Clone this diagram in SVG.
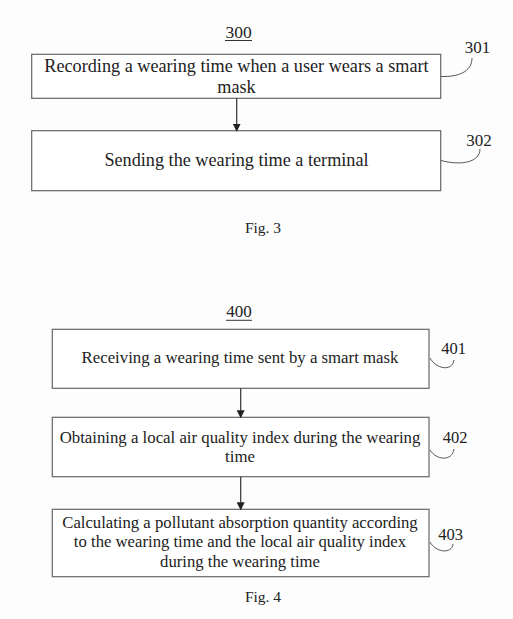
<svg xmlns="http://www.w3.org/2000/svg" width="513" height="619" viewBox="0 0 513 619">
<style>
.box{fill:#fff;stroke:#666;stroke-width:1.2}
.t{font-family:"Liberation Serif","Times New Roman",serif;fill:#222;text-anchor:middle}
.lbl{font-family:"Liberation Serif","Times New Roman",serif;fill:#222;text-anchor:middle}
.cv{fill:none;stroke:#555;stroke-width:1}
.ln{stroke:#333;stroke-width:1.2;fill:none}
</style>
<defs>
<marker id="ah" markerWidth="8" markerHeight="8" refX="7" refY="4" orient="auto" markerUnits="userSpaceOnUse">
<path d="M0,0 L8,4 L0,8 Z" fill="#222"/>
</marker>
</defs>
<rect width="513" height="619" fill="#fdfdfd"/>
<g id="title300">
<text class="lbl" font-size="17.5" x="238.5" y="37.5">300</text>
<line x1="225" y1="40.5" x2="252" y2="40.5" stroke="#333" stroke-width="1"/>
</g>
<g id="n301">
<rect class="box" x="31.7" y="54.3" width="409" height="44"/>
<text class="t" font-size="18.2" x="236.5" y="72">Recording a wearing time when a user wears a smart</text>
<text class="t" font-size="18.2" x="236.5" y="92.5">mask</text>
<text class="lbl" font-size="17" x="477.5" y="53">301</text>
<path class="cv" d="M441,76.5 C458,77 472,72 472,58"/>
</g>
<g id="n302">
<rect class="box" x="31.7" y="130.7" width="409" height="60"/>
<text class="t" font-size="18.2" x="236.5" y="165.7">Sending the wearing time a terminal</text>
<text class="lbl" font-size="17" x="479" y="146">302</text>
<path class="cv" d="M441,160.5 C462,166 480,162 480,149"/>
</g>
<g id="fig3">
<text class="t" font-size="15.5" x="263" y="233">Fig. 3</text>
</g>
<g id="title400">
<text class="lbl" font-size="17" x="239" y="317.3">400</text>
<line x1="226" y1="320.3" x2="252" y2="320.3" stroke="#333" stroke-width="1"/>
</g>
<g id="n401">
<rect class="box" x="52.3" y="329.3" width="376.7" height="59"/>
<text class="t" font-size="16.8" x="240" y="363.3">Receiving a wearing time sent by a smart mask</text>
<text class="lbl" font-size="16.5" x="453.5" y="354">401</text>
<path class="cv" d="M430,358 C436,369 452,372 454,360"/>
</g>
<g id="n402">
<rect class="box" x="52.3" y="417.3" width="376.7" height="59.4"/>
<text class="t" font-size="16.8" x="240" y="443.3">Obtaining a local air quality index during the wearing</text>
<text class="t" font-size="16.8" x="240" y="461.7">time</text>
<text class="lbl" font-size="16.5" x="455" y="442.7">402</text>
<path class="cv" d="M430,450 C436,460 452,462 454,449"/>
</g>
<g id="n403">
<rect class="box" x="52.3" y="509.3" width="376.7" height="67.4"/>
<text class="t" font-size="16.7" x="240" y="528.3">Calculating a pollutant absorption quantity according</text>
<text class="t" font-size="16.7" x="240" y="547.3">to the wearing time and the local air quality index</text>
<text class="t" font-size="16.7" x="240" y="566.7">during the wearing time</text>
<text class="lbl" font-size="16.5" x="450.5" y="540">403</text>
<path class="cv" d="M430,542 C436,553 452,554 453,544"/>
</g>
<g id="fig4">
<text class="t" font-size="15.5" x="263" y="602">Fig. 4</text>
</g>
<g id="connectors">
<line class="ln" x1="236.7" y1="98.3" x2="236.7" y2="130.7" marker-end="url(#ah)"/>
<line class="ln" x1="240.7" y1="388.3" x2="240.7" y2="417.3" marker-end="url(#ah)"/>
<line class="ln" x1="240.7" y1="476.7" x2="240.7" y2="509.3" marker-end="url(#ah)"/>
</g>
</svg>
